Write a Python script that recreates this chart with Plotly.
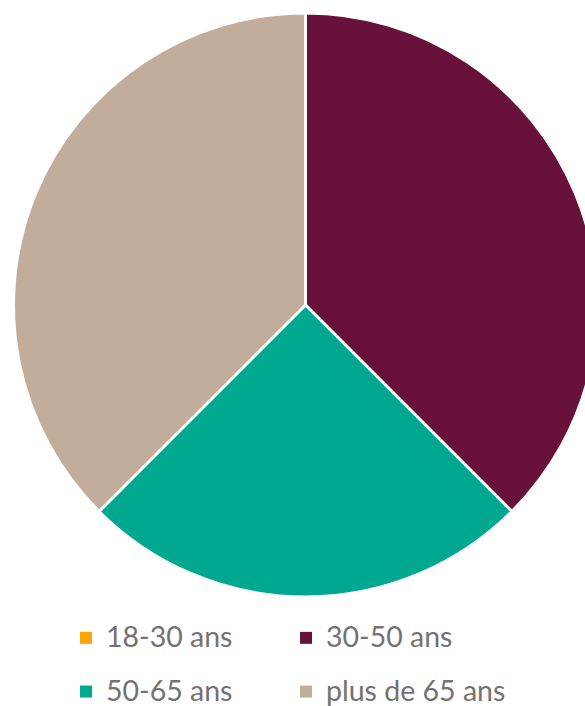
import plotly.graph_objects as go

labels = ["18-30 ans", "30-50 ans", "50-65 ans", "plus de 65 ans"]
values = [0, 3, 2, 3]
colors = ["#F7A600", "#68113A", "#00A88F", "#C2AD9A"]

LEG_SIZE = 28.5
legend_text = [
    f"<span style='font-size:{LEG_SIZE}px;baseline-shift:6px'>{l}</span>" for l in labels
]

W, H = 598, 706

# legend-only copy (no white outline on the legend squares), hidden under the pie
legend_pie = go.Pie(
    labels=legend_text,
    values=values,
    marker=dict(colors=colors, line=dict(width=0)),
    sort=False,
    direction="clockwise",
    textinfo="none",
    hoverinfo="skip",
    showlegend=True,
    domain=dict(x=[0.5, 0.5001], y=[0.6, 0.6001]),
)

main_pie = go.Pie(
    labels=legend_text,
    values=values,
    marker=dict(colors=colors, line=dict(color="white", width=3)),
    sort=False,
    direction="clockwise",
    rotation=0,
    textinfo="none",
    hoverinfo="percent",
    showlegend=False,
    domain=dict(x=[13 / W, 1], y=[1 - 597 / H, 1 - 13 / H]),
)

fig = go.Figure([legend_pie, main_pie])

fig.update_layout(
    width=W, height=H,
    margin=dict(l=0, r=0, t=0, b=0, autoexpand=False),
    paper_bgcolor="white",
    font=dict(family="Lato, sans-serif", color="#767171"),
    legend=dict(
        orientation="h",
        x=66 / W, xanchor="left",
        y=1 - 606 / H, yanchor="top",
        font=dict(size=39, color="#767171"),
        entrywidth=175, entrywidthmode="pixels",
        itemclick=False, itemdoubleclick=False,
    ),
)

fig.write_html(
    "out.html",
    config={"displayModeBar": False},
    post_script="document.body.style.margin='0';document.body.style.overflow='hidden';document.documentElement.style.overflow='hidden';",
)
